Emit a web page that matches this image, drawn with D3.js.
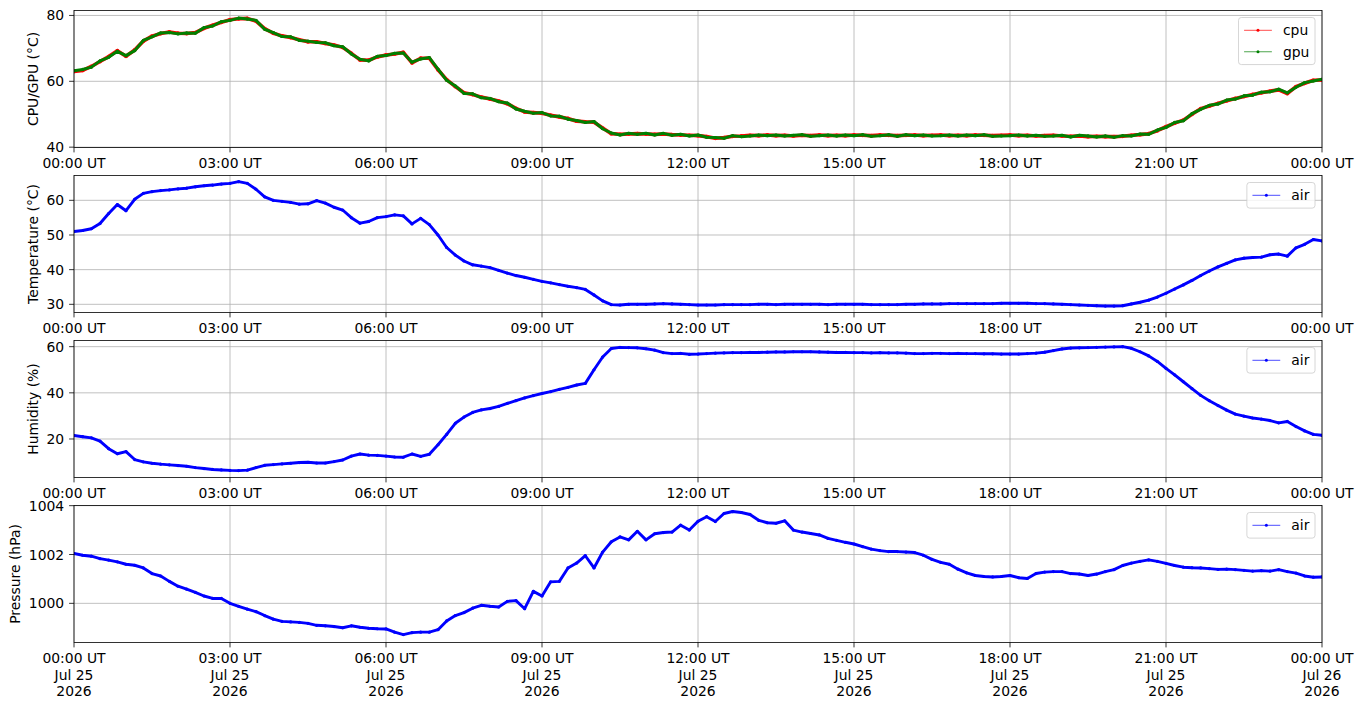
<!DOCTYPE html>
<html><head><meta charset="utf-8">
<script src="https://cdn.jsdelivr.net/npm/d3@7"></script>
<style>body{margin:0;background:#fff}svg{display:block}text{font-family:"DejaVu Sans",sans-serif;fill:#000}</style>
</head><body><svg id="c" width="1363" height="708"></svg>
<script>
// ---- data: one reading every 10 minutes, 25 Jul 2026 00:00 UT -> 26 Jul 00:00 UT ----
const startDate = Date.UTC(2026, 6, 25, 0, 0);
const stepMinutes = 10;

const cpu = [
 63,63.3,64.5,66,67.5,69.3, 67.6,69.5,72.2,73.7,74.5,75, 74.6,74.5,74.8,76.1,77,77.9,
 78.7,79,79.1,78.3,76,74.6, 73.8,73.3,72.6,72,72,71.5, 71,70.3,68.5,66.5,66.4,67.4,
 68,68.3,68.8,65.6,67,67, 63.5,60.5,58.4,56.5,56,55.2, 54.6,54,53.2,51.8,50.7,50.5,
 50.3,49.7,49.2,48.7,47.9,47.7, 47.6,45.8,44.1,43.9,44,44.1, 44,43.9,44,43.8,43.7,43.6,
 43.5,43.2,42.7,42.9,43.3,43.4, 43.6,43.5,43.7,43.5,43.6,43.4, 43.6,43.5,43.7,43.5,43.6,43.5,
 43.7,43.6,43.5,43.7,43.6,43.5, 43.6,43.7,43.5,43.6,43.7,43.5, 43.6,43.5,43.7,43.6,43.5,43.6,
 43.7,43.5,43.6,43.4,43.5,43.6, 43.4,43.3,43.4,43.2,43.3,43.2, 43.2,43.3,43.6,43.8,44.1,45,
 46.2,47.3,48.2,50,51.7,52.5, 53.3,54.1,54.8,55.4,56,56.5, 57,57.4,56.3,58.4,59.4,60.3, 60.4
];
const gpu = [
 63.2,63.6,64.3,66.2,67.3,69.1, 67.8,69.3,72.4,73.5,74.7,74.8, 74.4,74.7,74.6,76.3,76.8,78.1,
 78.5,79.2,78.9,78.5,75.8,74.8, 73.6,73.5,72.4,72.2,71.8,71.7, 70.8,70.5,68.3,66.7,66.2,67.6,
 67.8,68.5,68.6,65.8,66.8,67.2, 63.7,60.3,58.6,56.3,56.2,55, 54.8,53.8,53.4,51.6,50.9,50.3,
 50.5,49.5,49.4,48.5,48.1,47.5, 47.8,45.6,44.3,43.7,44.2,43.9, 44.2,43.7,44.2,43.6,43.9,43.4,
 43.7,43,42.9,42.7,43.5,43.2, 43.4,43.7,43.5,43.7,43.4,43.6, 43.8,43.3,43.5,43.7,43.4,43.7,
 43.5,43.8,43.3,43.5,43.8,43.3, 43.8,43.5,43.7,43.4,43.5,43.7, 43.4,43.7,43.5,43.8,43.3,43.4,
 43.5,43.7,43.4,43.6,43.3,43.4, 43.6,43.1,43.6,43.4,43.1,43.4, 43,43.5,43.4,44,43.9,45.2,
 46,47.5,48,50.2,51.5,52.7, 53.1,54.3,54.6,55.6,55.8,56.7, 56.8,57.6,56.5,58.2,59.6,60.1, 60.6
];
const airTemperature = [
 51,51.3,51.8,53.3,56.2,58.8, 57,60.3,62,62.5,62.8,63, 63.3,63.5,63.9,64.2,64.4,64.7,
 64.9,65.4,64.9,63.2,61,60, 59.7,59.4,58.9,59,59.9,59.2, 58,57.2,55,53.4,53.9,55,
 55.3,55.8,55.5,53.2,54.8,53, 50,46.4,44.2,42.5,41.4,41, 40.6,39.8,39,38.3,37.8,37.2,
 36.6,36.2,35.7,35.2,34.8,34.3, 32.7,31,29.9,29.8,30,30, 30,30.1,30.2,30.1,30,29.9,
 29.8,29.8,29.8,29.9,29.9,29.9, 29.9,30,30,29.9,30,30, 30,30,30,29.9,30,30,
 30,30,29.9,29.9,29.9,29.9, 30,30,30.1,30.1,30.1,30.2, 30.2,30.2,30.2,30.2,30.2,30.3,
 30.3,30.3,30.3,30.2,30.2,30.1, 30,29.9,29.8,29.7,29.6,29.5, 29.5,29.6,30.1,30.6,31.2,32.1,
 33.2,34.4,35.6,36.9,38.3,39.6, 40.8,41.8,42.8,43.3,43.5,43.6, 44.3,44.5,43.9,46.3,47.3,48.7, 48.3
];
const airHumidity = [
 21.5,21,20.5,19.1,15.8,13.6, 14.5,11.1,10.1,9.5,9.1,8.8, 8.5,8.2,7.6,7.2,6.8,6.6,
 6.4,6.3,6.5,7.6,8.6,8.9, 9.2,9.5,9.8,9.9,9.6,9.6, 10.2,10.9,12.6,13.5,13,12.9,
 12.6,12.2,12.1,13.5,12.5,13.4, 17.5,22,26.8,29.5,31.5,32.6, 33.2,34.1,35.4,36.6,37.8,38.8,
 39.7,40.5,41.5,42.4,43.4,44.1, 50,55.5,59.2,59.7,59.6,59.5, 59.1,58.5,57.4,57,57.1,56.7,
 56.8,57,57.2,57.3,57.4,57.4, 57.5,57.5,57.6,57.7,57.7,57.8, 57.8,57.8,57.7,57.6,57.5,57.5,
 57.4,57.4,57.3,57.4,57.3,57.3, 57.2,57,57,57.1,57.1,57, 57.1,57,57,56.9,56.9,56.8,
 56.8,56.8,57,57.2,57.6,58.3, 59,59.4,59.5,59.6,59.7,59.8, 59.9,60,59.3,57.8,56,53.6,
 50.6,47.8,44.8,41.8,38.9,36.6, 34.5,32.5,30.8,29.9,29.1,28.6, 28,27,27.6,25.4,23.5,22, 21.6
];
const airPressure = [
 1002.04,1001.97,1001.93,1001.83,1001.77,1001.7, 1001.6,1001.56,1001.45,1001.22,1001.12,1000.9,
 1000.7,1000.58,1000.45,1000.3,1000.2,1000.2, 1000,999.88,999.76,999.66,999.5,999.35,
 999.26,999.24,999.22,999.18,999.1,999.08, 999.05,999,999.08,999.02,998.98,998.96,
 998.95,998.82,998.72,998.8,998.82,998.82, 998.92,999.28,999.5,999.62,999.8,999.92,
 999.88,999.85,1000.08,1000.11,999.78,1000.49, 1000.3,1000.88,1000.9,1001.45,1001.65,1001.95,
 1001.45,1002.1,1002.52,1002.72,1002.6,1002.95, 1002.6,1002.85,1002.9,1002.92,1003.2,1003.0,
 1003.36,1003.55,1003.35,1003.68,1003.76,1003.72, 1003.64,1003.4,1003.3,1003.28,1003.38,1003.0,
 1002.92,1002.86,1002.8,1002.66,1002.58,1002.5, 1002.43,1002.32,1002.22,1002.16,1002.12,1002.12,
 1002.1,1002.08,1001.97,1001.8,1001.68,1001.6, 1001.4,1001.25,1001.14,1001.1,1001.08,1001.1,
 1001.14,1001.05,1001.02,1001.22,1001.28,1001.3, 1001.3,1001.22,1001.2,1001.14,1001.2,1001.3,
 1001.38,1001.55,1001.65,1001.72,1001.78,1001.72, 1001.64,1001.55,1001.48,1001.46,1001.45,1001.42,
 1001.39,1001.4,1001.38,1001.35,1001.32,1001.34, 1001.32,1001.38,1001.3,1001.24,1001.12,1001.07,
 1001.08
];
const tickHours = [0, 3, 6, 9, 12, 15, 18, 21, 24];
const cpuTicks = [40, 60, 80];
const temperatureTicks = [30, 40, 50, 60];
const humidityTicks = [20, 40, 60];
const pressureTicks = [1000, 1002, 1004];
const yLabels = ["CPU/GPU (°C)", "Temperature (°C)", "Humidity (%)", "Pressure (hPa)"];

// ---- layout ----
const W = 1363, H = 708, FS = 13.9;
const left = 74, right = 1322, panelH = 137;
const tops = [10.5, 175.5, 340.5, 505.5];
const yDomains = [[39.9, 81.5], [27.64, 67.16], [3.32, 62.67], [998.396, 1004.007]];

const times = cpu.map((_, i) => new Date(startDate + i * stepMinutes * 60000));
const x = d3.scaleUtc()
  .domain([new Date(startDate), new Date(startDate + 24 * 3600000)])
  .range([left, right]);
const tickDates = tickHours.map(h => new Date(startDate + h * 3600000));

const panels = [
  {series: [{name: "cpu", values: cpu, color: "#ff0000"}, {name: "gpu", values: gpu, color: "#008000"}], ticks: cpuTicks},
  {series: [{name: "air", values: airTemperature, color: "#0000ff"}], ticks: temperatureTicks},
  {series: [{name: "air", values: airHumidity, color: "#0000ff"}], ticks: humidityTicks},
  {series: [{name: "air", values: airPressure, color: "#0000ff"}], ticks: pressureTicks}
];

const svg = d3.select("#c");
svg.append("rect").attr("width", W).attr("height", H).attr("fill", "#fff");

const fmtTime = d3.utcFormat("%H:%M UT"), fmtDay = d3.utcFormat("%b %d"), fmtYear = d3.utcFormat("%Y");

panels.forEach((p, pi) => {
  const top = tops[pi], bottom = top + panelH;
  const y = d3.scaleLinear().domain(yDomains[pi]).range([bottom, top]);
  const g = svg.append("g");
  const clipId = "clip" + pi;
  svg.append("clipPath").attr("id", clipId).append("rect")
    .attr("x", left).attr("y", top).attr("width", right - left).attr("height", panelH);

  // grid
  g.selectAll(".vg").data(tickDates).enter().append("line")
    .attr("x1", d => x(d)).attr("x2", d => x(d)).attr("y1", top).attr("y2", bottom)
    .attr("stroke", "#b0b0b0").attr("stroke-width", 0.8);
  g.selectAll(".hg").data(p.ticks).enter().append("line")
    .attr("x1", left).attr("x2", right).attr("y1", d => y(d)).attr("y2", d => y(d))
    .attr("stroke", "#b0b0b0").attr("stroke-width", 0.8);

  // data
  const plot = g.append("g").attr("clip-path", `url(#${clipId})`);
  const multi = p.series.length > 1;
  p.series.forEach((s, si) => {
    const line = d3.line().x((d, i) => x(times[i])).y(d => y(d));
    plot.append("path").datum(s.values).attr("d", line)
      .attr("fill", "none").attr("stroke", s.color)
      .attr("stroke-width", multi ? (si === 0 ? 3.6 : 3.0) : 2.9)
      .attr("stroke-linejoin", "round").attr("stroke-linecap", "round");
    plot.selectAll(".m" + si).data(s.values).enter().append("circle")
      .attr("cx", (d, i) => x(times[i])).attr("cy", d => y(d))
      .attr("r", multi ? (si === 0 ? 1.9 : 1.6) : 1.6).attr("fill", s.color);
  });

  // spines
  g.append("rect").attr("x", left).attr("y", top).attr("width", right - left).attr("height", panelH)
    .attr("fill", "none").attr("stroke", "#000").attr("stroke-width", 0.8);

  // x ticks
  tickDates.forEach(d => {
    g.append("line").attr("x1", x(d)).attr("x2", x(d)).attr("y1", bottom).attr("y2", bottom + 4.9)
      .attr("stroke", "#000").attr("stroke-width", 0.8);
    const t = g.append("text").attr("x", x(d)).attr("y", bottom + 20.5).attr("text-anchor", "middle")
      .attr("font-size", FS);
    if (pi === 3) {
      t.append("tspan").attr("x", x(d)).text(fmtTime(d));
      t.append("tspan").attr("x", x(d)).attr("dy", 16.5).text(fmtDay(d));
      t.append("tspan").attr("x", x(d)).attr("dy", 16.5).text(fmtYear(d));
    } else {
      t.text(fmtTime(d));
    }
  });

  // y ticks
  let maxW = 0;
  p.ticks.forEach(v => {
    g.append("line").attr("x1", left - 4.9).attr("x2", left).attr("y1", y(v)).attr("y2", y(v))
      .attr("stroke", "#000").attr("stroke-width", 0.8);
    const t = g.append("text").attr("x", left - 9.8).attr("y", y(v) + 5).attr("text-anchor", "end")
      .attr("font-size", FS).text(v);
    maxW = Math.max(maxW, t.node().getComputedTextLength());
  });

  // y label
  const bx = left - 9.8 - maxW - 5.6 - 3.3;
  g.append("text").attr("transform", `translate(${bx},${(top + bottom) / 2}) rotate(-90)`)
    .attr("text-anchor", "middle").attr("font-size", FS).text(yLabels[pi]);

  // legend
  const lg = g.append("g");
  const n = p.series.length, pad = 5.56, rowH = 14.5, sp = 6.95, hl = 27.8, htp = 11.1;
  const lt = top + 7;
  const labels = p.series.map((s, i) => lg.append("text").attr("font-size", FS).text(s.name));
  const tw = d3.max(labels, t => t.node().getComputedTextLength());
  const lw = pad + hl + htp + tw + pad;
  const lh = 2 * pad + n * rowH + (n - 1) * sp;
  const lx = right - 7 - lw;
  lg.insert("rect", ":first-child").attr("x", lx).attr("y", lt).attr("width", lw).attr("height", lh)
    .attr("rx", 2.8).attr("fill", "#fff").attr("fill-opacity", 0.8)
    .attr("stroke", "#cccccc").attr("stroke-width", 0.8);
  p.series.forEach((s, i) => {
    const cy = lt + pad + rowH / 2 + i * (rowH + sp);
    lg.append("line").attr("x1", lx + pad).attr("x2", lx + pad + hl).attr("y1", cy).attr("y2", cy)
      .attr("stroke", s.color).attr("stroke-width", 0.7);
    lg.append("circle").attr("cx", lx + pad + hl / 2).attr("cy", cy).attr("r", 1.5).attr("fill", s.color);
    labels[i].attr("x", lx + pad + hl + htp).attr("y", cy + 5);
  });
});
</script></body></html>
